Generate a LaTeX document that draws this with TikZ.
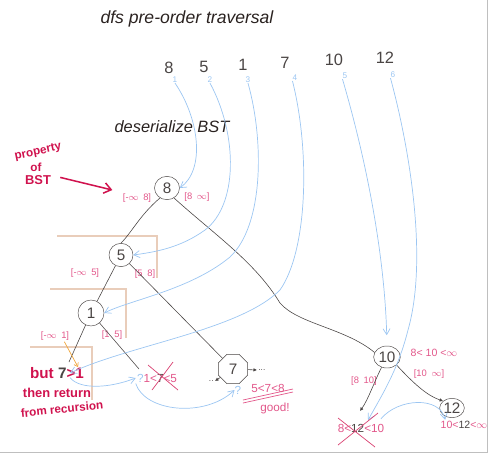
\documentclass[tikz,border=0pt]{standalone}
\usepackage{fontspec}
\setmainfont{Liberation Sans}
\usetikzlibrary{arrows.meta,shapes.geometric}

\definecolor{ink}{HTML}{4A4544}
\definecolor{titleink}{HTML}{2A2220}
\definecolor{blueink}{HTML}{9CC6F2}
\definecolor{pinkink}{HTML}{E2578A}
\definecolor{crim}{HTML}{D0124E}
\definecolor{beige}{HTML}{E9CDBA}
\definecolor{orangeink}{HTML}{F0A63C}

\tikzset{
  treenode/.style={draw=ink, ellipse, inner sep=0pt, minimum width=0.75cm,
    minimum height=0.7cm, text=ink, font=\fontsize{13}{13}\selectfont},
  seqnum/.style={text=ink, font=\fontsize{14}{14}\selectfont, inner sep=0pt},
  idx/.style={text=blueink, font=\fontsize{7}{7}\selectfont, inner sep=0pt},
  lbl/.style={text=pinkink, font=\fontsize{8}{8}\selectfont, inner sep=1pt},
  note/.style={text=crim, font=\fontsize{12}{13}\selectfont\bfseries, inner sep=0pt, align=center},
  edge/.style={draw=ink, line width=0.5pt},
  bluearrow/.style={draw=blueink, line width=0.6pt, -{Straight Barb[length=5pt,width=6pt]}},
  boxline/.style={draw=beige, line width=1pt},
  stubtip/.style={-{Latex[length=3pt,width=3pt]}},
  crossout/.style={draw=crim!80, line width=0.6pt}
}

\begin{document}
\begin{tikzpicture}[x=0.03cm, y=-0.03cm]
  \useasboundingbox (0,0) rectangle (491,462);

  % frame of the sheet
  \draw[gray!50] (0,452) -- (487,452) -- (487,0);

  % titles
  \node[text=titleink, font=\fontsize{15}{15}\selectfont\itshape] (title) at (187,19) {dfs pre-order traversal};
  \node[text=titleink, font=\fontsize{14}{14}\selectfont\itshape] (subtitle) at (172,127) {deserialize BST};

  % pre-order sequence with positions
  \foreach \v/\x/\y/\i in {8/169/68/1, 5/204/67/2, 1/243/65/3, 7/285/63/4, 10/334/60/5, 12/385/58/6}
    \node[seqnum] (v\i) at (\x,\y) {\v};
  \foreach \x/\y/\i in {175/80/1, 210/80/2, 248/80/3, 295/78/4, 345/76/5, 393/75/6}
    \node[idx] (i\i) at (\x,\y) {\i};

  % tree
  \node[treenode] (n8) at (167,188) {8};
  \node[treenode, minimum width=0.72cm] (n5) at (121,255) {5};
  \node[treenode, minimum width=0.78cm, minimum height=0.78cm] (n1) at (91,313) {1};
  \node[treenode, shape=regular polygon, regular polygon sides=8, minimum size=0.95cm] (n7) at (233,369) {7};
  \node[treenode, minimum width=0.8cm, minimum height=0.66cm] (n10) at (387,357) {10};
  \node[treenode, minimum width=0.74cm, minimum height=0.58cm] (n12) at (452,408) {12};

  % ranges
  \node[lbl] (lo8) at (137,198) {[-$\infty$\enspace 8]};
  \node[lbl] (hi8) at (197,197) {[8\enspace $\infty$]};
  \node[lbl] (lo5) at (85,273) {[-$\infty$\enspace 5]};
  \node[lbl] (hi5) at (145,274) {[5\enspace 8]};
  \node[lbl] (lo1) at (55,336) {[-$\infty$\enspace 1]};
  \node[lbl] (hi1) at (112,335) {[1\enspace 5]};
  \node[lbl] (lo10) at (364,381) {[8\enspace 10]};
  \node[lbl] (hi10) at (429,374) {[10\enspace $\infty$]};
  \node[lbl, font=\fontsize{9}{9}\selectfont] (c10) at (434,353) {8< 10 <$\infty$};
  \node[lbl, font=\fontsize{9}{9}\selectfont] (g12) at (464,425) {10<{\color{ink}12}<$\infty$};
  \node[lbl, font=\fontsize{10}{10}\selectfont] (x12) at (361,428) {8<{\color{ink}12}<10};
  \node[lbl, font=\fontsize{10}{10}\selectfont] (q1) at (157,378) {{\color{blueink}?}1<{\color{ink}7}<5};
  \node[lbl, font=\fontsize{10}{10}\selectfont] (g7) at (268,388) {5<7<8};
  \node[lbl, font=\fontsize{10}{10}\selectfont] (good) at (275,408) {good!};
  \node[text=blueink, font=\fontsize{10}{10}\selectfont, inner sep=0pt] (q2) at (238,390) {?};

  % notes
  \node[note, font=\fontsize{10}{10}\selectfont\bfseries, rotate=12] (prop) at (38,152) {property};
  \node[note, font=\fontsize{10}{10}\selectfont\bfseries] (propof) at (36,167) {of};
  \node[note, font=\fontsize{11}{11}\selectfont\bfseries] (propbst) at (38,180) {BST};
  \node[note, font=\fontsize{13}{13}\selectfont\bfseries] (but) at (57,373) {but {\color{ink}7}>1};
  \node[note, font=\fontsize{11}{11}\selectfont\bfseries] (ret) at (57,393) {then return};
  \node[note, font=\fontsize{10}{10}\selectfont\bfseries, rotate=6] (rec) at (62,409) {from recursion};

  % windows of the recursion
  \draw[boxline] (57,236) -- (157,236) -- (157,278);
  \draw[boxline] (50,289) -- (126,289) -- (126,338);
  \draw[boxline] (30,347) -- (92,347) -- (92,400);

  % edges
  \draw[edge] (n8.235) .. controls (140,215) and (132,232) .. (n5.north);
  \draw[edge] (n8.-55) .. controls (215,235) and (255,262) .. (280,303)
    .. controls (298,324) and (345,328) .. (n10.160);
  \draw[edge] (n5) -- (n1);
  \draw[edge] (n5) -- (n7);
  \coordinate (s1) at (69,362);
  \coordinate (s2) at (139,369);
  \draw[edge] (n1) -- (s1);
  \draw[edge] (n1) -- (s2);
  \coordinate (s3) at (215,381);
  \coordinate (s4) at (257,370);
  \draw[edge, stubtip] (n7) -- (s3) node[left, text=ink, inner sep=1pt, font=\scriptsize] {..};
  \draw[edge, stubtip] (n7) -- (s4) node[right, text=ink, inner sep=1pt, font=\scriptsize] {...};
  \coordinate (s5) at (360,411);
  \draw[edge, stubtip] (n10) .. controls (375,380) and (368,400) .. (s5);
  \draw[edge, stubtip] (n10.-40) .. controls (415,385) and (428,396) .. (n12.north west);

  % order of visiting
  \draw[bluearrow] (i1.south) .. controls (200,120) and (205,170) .. (n8.east);
  \draw[bluearrow] (i2.south) .. controls (238,135) and (238,205) .. (205,230)
    .. controls (180,248) and (155,252) .. (n5.east);
  \draw[bluearrow] (i3.south) .. controls (264,140) and (264,225) .. (230,257)
    .. controls (190,290) and (130,300) .. (n1.east);
  \draw[bluearrow] (i4.south west) .. controls (310,150) and (308,250) .. (280,290)
    .. controls (240,330) and (130,345) .. ([xshift=-12pt]but.east);
  \draw[bluearrow] ([xshift=-12pt,yshift=-4pt]but.east) .. controls (80,390) and (110,388) .. (q1.west);
  \draw[bluearrow] (q1.south west) .. controls (145,412) and (205,418) .. (q2.west);
  \draw[bluearrow, shorten >=9pt] (i5.south west) .. controls (372,180) and (385,270) .. (n10.north);
  \draw[bluearrow] (i6.south west) .. controls (410,150) and (428,260) .. (408,330)
    .. controls (398,370) and (382,395) .. ([xshift=6pt,yshift=2pt]x12.north);
  \draw[bluearrow] ([xshift=-4pt,yshift=3pt]x12.north east) .. controls (398,398) and (440,396) .. ([xshift=5pt]g12.north west);

  % pointers and marks
  \draw[draw=crim, line width=1.3pt, -{Straight Barb[length=6pt,width=9pt]}, shorten <=8pt, shorten >=8pt]
    (propbst.north east) -- (lo8.north west);
  \draw[draw=orangeink, line width=0.6pt, -{Straight Barb[length=3pt,width=4pt]}]
    ([xshift=8pt]lo1.south) -- ([xshift=18pt]but.north);
  \draw[crossout] (148,365) -- (178,390);
  \draw[crossout] (173,362) -- (152,390);
  \draw[crossout] (338,418) -- (375,447);
  \draw[crossout] (378,413) -- (338,445);
  \draw[draw=pinkink, line width=0.6pt] (243,400) -- (293,389);
  \draw[draw=pinkink, line width=0.6pt] (243,403) -- (293,392);
\end{tikzpicture}
\end{document}
